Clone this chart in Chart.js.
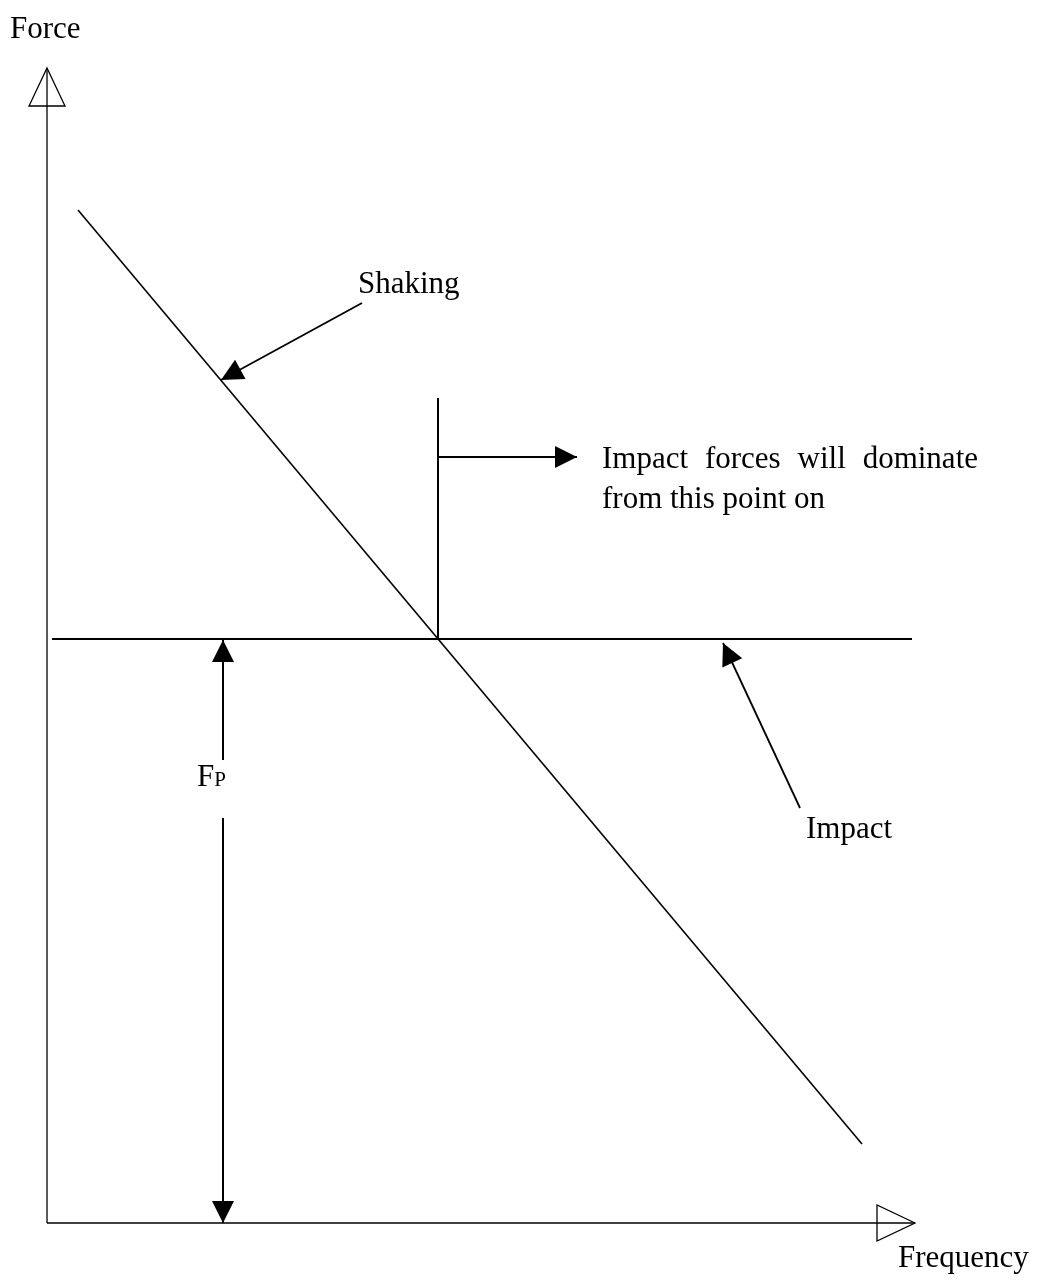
<!DOCTYPE html>
<html>
<head>
<meta charset="utf-8">
<script src="https://cdn.jsdelivr.net/npm/chart.js@4.4.1/dist/chart.umd.min.js"></script>
<style>
	html, body { margin:0; padding:0; background:#fff; }
	#wrap { position:relative; width:1039px; height:1280px; }
</style>
</head>
<body>
<div id="wrap"><canvas id="c"></canvas></div>
<script>
// units: frequency / force, origin where the two axes meet
const forceAxis = [{x:0, y:0}, {x:0, y:115.5}];
const freqAxis = [{x:0, y:0}, {x:86.8, y:0}];
const shaking = [{x:3.1, y:101.3}, {x:81.5, y:7.9}];
const impact = [{x:0.5, y:58.4}, {x:86.5, y:58.4}];
const crossover = [{x:39.1, y:58.4}, {x:39.1, y:82.5}];
const dominateArrow = [{x:39.1, y:76.6}, {x:53.0, y:76.6}];
const shakingPointer = [{x:31.5, y:92.0}, {x:17.4, y:84.3}];
const impactPointer = [{x:75.3, y:41.5}, {x:67.6, y:58.0}];
const fpUp = [{x:17.6, y:46.3}, {x:17.6, y:58.3}];
const fpDown = [{x:17.6, y:40.5}, {x:17.6, y:0}];

const labels = [
	{text:'Force', x:-3.7, y:118.5},
	{text:'Shaking', x:31.1, y:93.0},
	{text:'Impact forces will dominate', x:55.5, y:75.5, width:37.6},
	{text:'from this point on', x:55.5, y:71.5},
	{text:'Impact', x:75.9, y:38.5},
	{text:'F', sub:'P', x:15.0, y:43.7},
	{text:'Frequency', x:85.1, y:-4.4},
];

const line = (data, w, arrow) => ({
	data: data,
	showLine: true,
	borderColor: '#000',
	borderWidth: w,
	pointRadius: 0,
	arrow: arrow,
});

// arrow heads at the last point of each dataset
const arrowHeads = {
	id: 'arrowHeads',
	afterDatasetsDraw(chart) {
		const ctx = chart.ctx, sx = chart.scales.x, sy = chart.scales.y;
		chart.data.datasets.forEach(ds => {
			if (!ds.arrow) return;
			const p = ds.data[ds.data.length - 2], q = ds.data[ds.data.length - 1];
			const x0 = sx.getPixelForValue(p.x), y0 = sy.getPixelForValue(p.y);
			const x1 = sx.getPixelForValue(q.x), y1 = sy.getPixelForValue(q.y);
			const a = Math.atan2(y1 - y0, x1 - x0);
			const len = ds.arrow == 'hollow' ? 38 : 22, half = ds.arrow == 'hollow' ? 18 : 11;
			ctx.save();
			ctx.translate(x1, y1);
			ctx.rotate(a);
			ctx.beginPath();
			ctx.moveTo(0, 0);
			ctx.lineTo(-len, -half);
			ctx.lineTo(-len, half);
			ctx.closePath();
			if (ds.arrow == 'hollow') {
				ctx.lineWidth = 1.3;
				ctx.strokeStyle = '#000';
				ctx.stroke();
			} else {
				ctx.fillStyle = '#000';
				ctx.fill();
			}
			ctx.restore();
		});
	}
};

// text, justified lines are spread word by word to their width
const textLabels = {
	id: 'textLabels',
	afterDraw(chart) {
		const ctx = chart.ctx, sx = chart.scales.x, sy = chart.scales.y;
		ctx.save();
		ctx.fillStyle = '#000';
		ctx.textBaseline = 'alphabetic';
		labels.forEach(l => {
			const x = sx.getPixelForValue(l.x), y = sy.getPixelForValue(l.y);
			ctx.font = '31px "Liberation Serif", "Times New Roman", serif';
			if (l.width) {
				const words = l.text.split(' ');
				const full = sx.getPixelForValue(l.x + l.width) - x;
				const ww = words.map(w => ctx.measureText(w).width);
				const gap = (full - ww.reduce((s, v) => s + v, 0)) / (words.length - 1);
				let cx = x;
				words.forEach((w, i) => { ctx.fillText(w, cx, y); cx += ww[i] + gap; });
			} else {
				ctx.fillText(l.text, x, y);
			}
			if (l.sub) {
				const w = ctx.measureText(l.text).width;
				ctx.font = '21px "Liberation Serif", "Times New Roman", serif';
				ctx.fillText(l.sub, x + w, y);
			}
		});
		ctx.restore();
	}
};

new Chart(document.getElementById('c'), {
	type: 'scatter',
	data: {
		datasets: [
			line(forceAxis, 1.3, 'hollow'),
			line(freqAxis, 1.3, 'hollow'),
			line(shaking, 1.6),
			line(impact, 2),
			line(crossover, 2),
			line(dominateArrow, 1.8, 'filled'),
			line(shakingPointer, 1.8, 'filled'),
			line(impactPointer, 1.8, 'filled'),
			line(fpUp, 2, 'filled'),
			line(fpDown, 2, 'filled'),
		]
	},
	options: {
		responsive: true,
		maintainAspectRatio: false,
		animation: false,
		layout: { padding: 0 },
		plugins: {
			legend: { display: false },
			tooltip: { enabled: false },
		},
		scales: {
			x: { type: 'linear', min: -4.7, max: 99.2, display: false },
			y: { type: 'linear', min: -5.7, max: 122.3, display: false },
		},
	},
	plugins: [arrowHeads, textLabels],
});
</script>
</body>
</html>
